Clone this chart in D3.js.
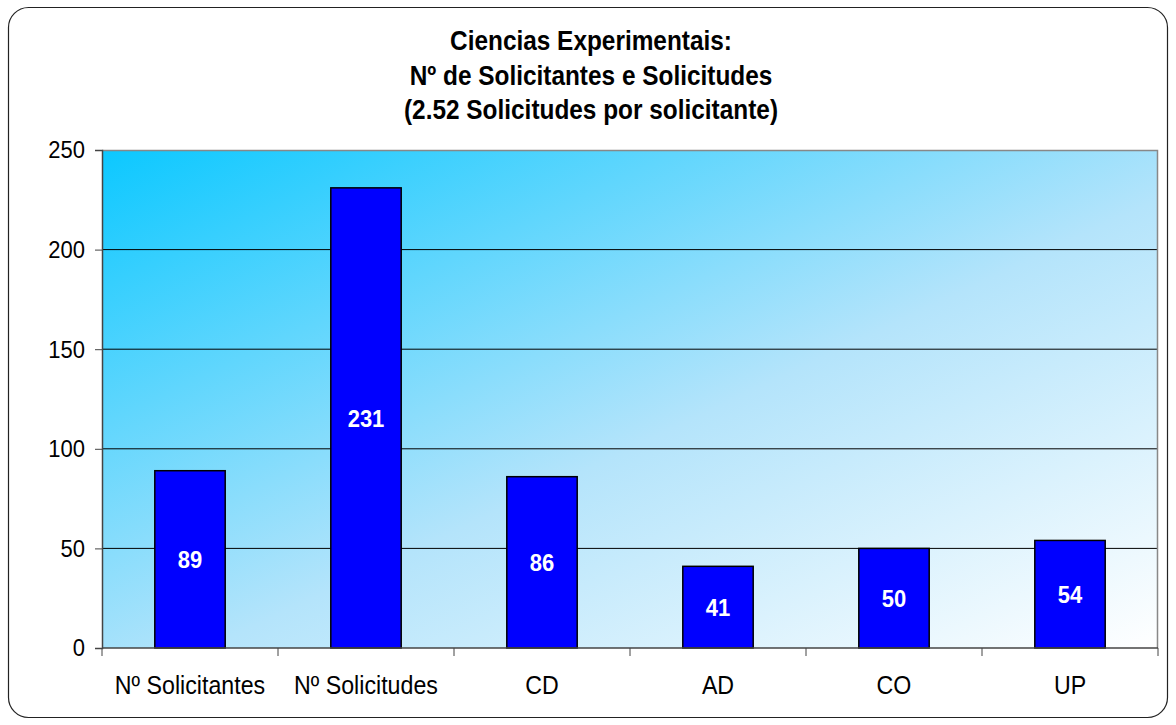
<!DOCTYPE html>
<html>
<head>
<meta charset="utf-8">
<script src="https://cdn.jsdelivr.net/npm/d3@7"></script>
<style>
  body { margin: 0; background: #fff; }
  text { font-family: "Liberation Sans", Arial, sans-serif; }
</style>
</head>
<body>
<svg id="chart" width="1176" height="725"></svg>
<script>
(function(){

    // data
    const categories = ["Nº Solicitantes", "Nº Solicitudes", "CD", "AD", "CO", "UP"];
    const values = [89, 231, 86, 41, 50, 54];
    const yTicks = [0, 50, 100, 150, 200, 250];
    const titleLines = ["Ciencias Experimentais:", "Nº de Solicitantes e Solicitudes", "(2.52 Solicitudes por solicitante)"];

    const margin = {top: 150, right: 18, bottom: 77, left: 102};
    const width = 1176 - margin.left - margin.right;
    const height = 725 - margin.top - margin.bottom;
    const stretch = "scale(1,1.12)";   // the original text is a bit taller than wide

    const root = d3.select("svg#chart");

    // outer frame
    root.append("rect")
        .attr("x", 8.5).attr("y", 7.5)
        .attr("width", 1159).attr("height", 710)
        .attr("rx", 20).attr("ry", 20)
        .attr("fill", "white")
        .attr("stroke", "#222")
        .attr("stroke-width", 1.2);

    const defs = root.append("defs");
    const grad = defs.append("linearGradient")
        .attr("id", "bg")
        .attr("x1", "0").attr("y1", "0")
        .attr("x2", "1").attr("y2", "1");
    grad.append("stop").attr("offset", "0%").attr("stop-color", "#0cc8ff");
    grad.append("stop").attr("offset", "55%").attr("stop-color", "#b4e4fb");
    grad.append("stop").attr("offset", "100%").attr("stop-color", "#ffffff");

    // title
    root.selectAll("g.title")
        .data(titleLines)
        .enter()
        .append("g")
            .attr("class", "title")
            .attr("transform", (d, i) => "translate(591," + (50 + i * 34.5) + ")")
        .append("text")
            .attr("transform", stretch)
            .attr("text-anchor", "middle")
            .attr("font-size", "24.4px")
            .attr("font-weight", "bold")
            .text(d => d);

    const svg = root.append("g")
        .attr("transform", "translate(" + margin.left + "," + margin.top + ")");

    const yScale = d3.scaleLinear()
        .domain([0, 250])
        .range([height, 0]);

    const xScale = d3.scaleBand()
        .domain(categories)
        .range([0, width])
        .paddingInner(0.6)
        .paddingOuter(0.3);

    // plot background
    svg.append("rect")
        .attr("width", width)
        .attr("height", height)
        .attr("fill", "url(#bg)");

    // gridlines
    svg.append("g")
        .selectAll("line")
        .data(yTicks.filter(d => d > 0 && d < 250))
        .enter()
        .append("line")
            .attr("x1", 0).attr("x2", width)
            .attr("y1", d => yScale(d)).attr("y2", d => yScale(d))
            .attr("stroke", "black")
            .attr("stroke-width", 1);

    // plot border top/right
    svg.append("path")
        .attr("d", "M0,0.5H" + (width - 0.5) + "V" + height)
        .attr("fill", "none")
        .attr("stroke", "#888")
        .attr("stroke-width", 1.5);

    // bars
    svg.selectAll("rect.bar")
        .data(values)
        .enter()
        .append("rect")
            .attr("class", "bar")
            .attr("x", (d, i) => xScale(categories[i]))
            .attr("y", d => yScale(d))
            .attr("width", xScale.bandwidth())
            .attr("height", d => height - yScale(d))
            .attr("fill", "#0000ff")
            .attr("stroke", "black")
            .attr("stroke-width", 1.5);

    svg.selectAll("g.lbl")
        .data(values)
        .enter()
        .append("g")
            .attr("class", "lbl")
            .attr("transform", (d, i) => "translate(" + (xScale(categories[i]) + xScale.bandwidth() / 2)
                + "," + ((yScale(d) + height) / 2) + ")")
        .append("text")
            .attr("transform", stretch)
            .attr("dy", "0.36em")
            .attr("text-anchor", "middle")
            .attr("font-size", "22px")
            .attr("font-weight", "bold")
            .attr("fill", "white")
            .text(d => d);

    // y axis
    const yAxis = svg.append("g")
        .call(d3.axisLeft(yScale).tickValues(yTicks).tickSize(7).tickPadding(10));
    yAxis.select(".domain").attr("stroke", "#444").attr("stroke-width", 1.5);
    yAxis.selectAll(".tick line").attr("stroke", "#444");
    yAxis.selectAll("text")
        .attr("transform", stretch)
        .attr("font-size", "22px").attr("fill", "black")
        .attr("font-family", "Liberation Sans, Arial, sans-serif");

    // x axis: ticks at category boundaries
    const xAxis = svg.append("g")
        .attr("transform", "translate(0," + height + ")");
    xAxis.append("line")
        .attr("x1", 0).attr("x2", width)
        .attr("stroke", "#444").attr("stroke-width", 1.5);
    const bounds = d3.range(categories.length + 1).map(i => i * width / categories.length);
    xAxis.selectAll("line.tk")
        .data(bounds)
        .enter()
        .append("line")
            .attr("class", "tk")
            .attr("x1", d => d).attr("x2", d => d)
            .attr("y1", 0).attr("y2", 8)
            .attr("stroke", "#444");
    xAxis.selectAll("g.xl")
        .data(categories)
        .enter()
        .append("g")
            .attr("class", "xl")
            .attr("transform", d => "translate(" + (xScale(d) + xScale.bandwidth() / 2) + ",46)")
        .append("text")
            .attr("transform", stretch)
            .attr("text-anchor", "middle")
            .attr("font-size", "23.2px")
            .text(d => d);

})()
</script>
</body>
</html>
